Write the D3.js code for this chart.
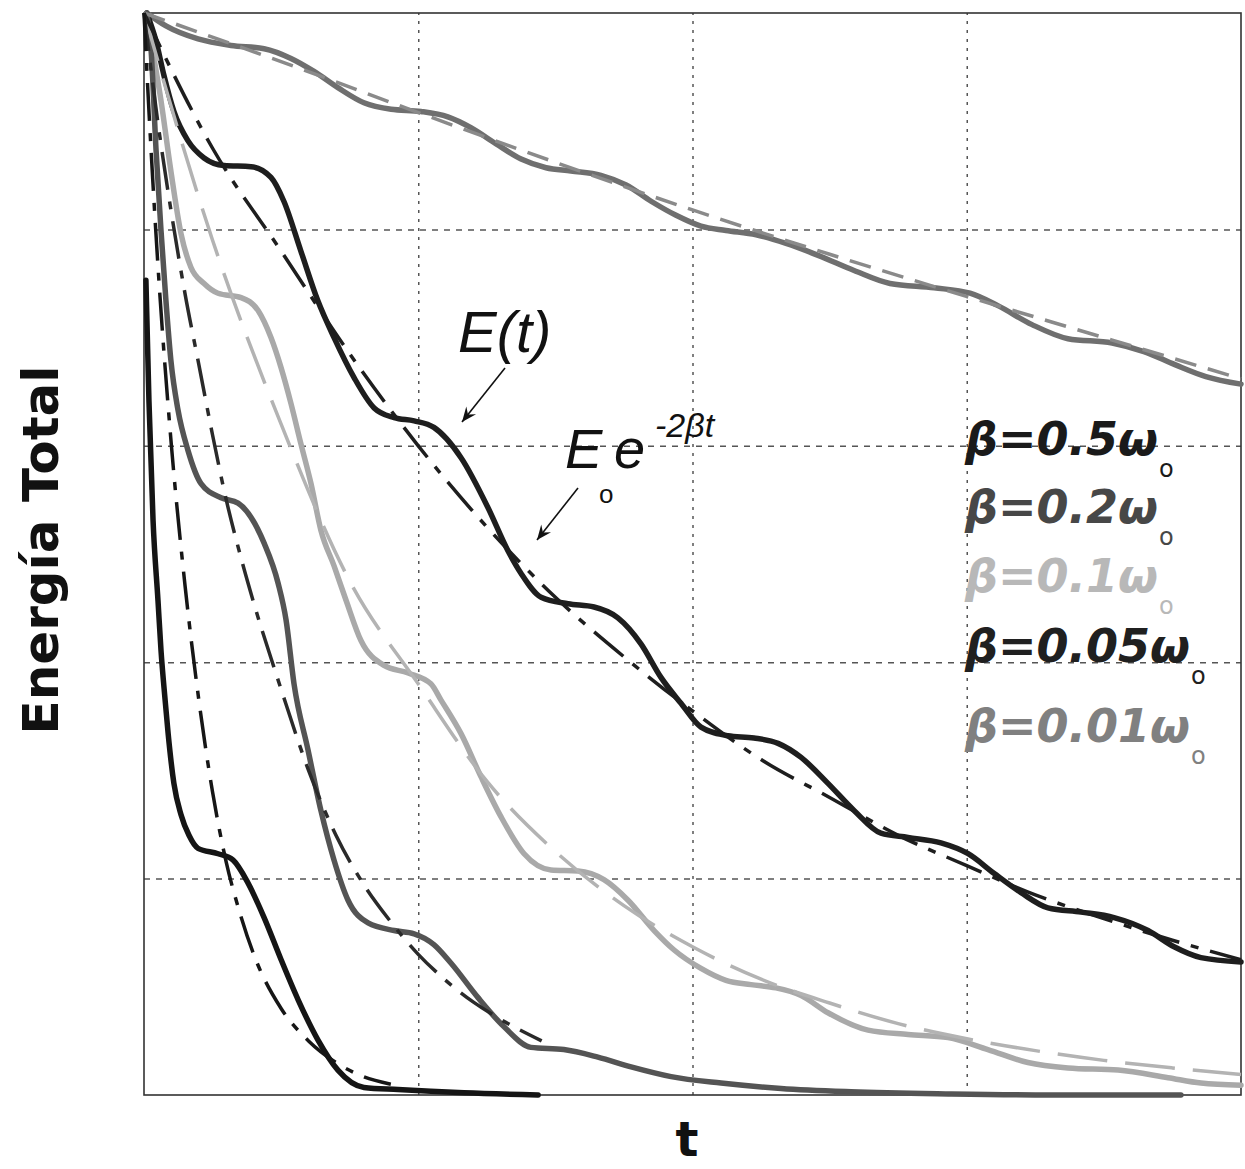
<!DOCTYPE html>
<html>
<head>
<meta charset="utf-8">
<script src="https://cdn.jsdelivr.net/npm/d3@7"></script>
<style>
  html, body { margin: 0; padding: 0; background: #fff; }
  svg { display: block; }
</style>
</head>
<body>
<script>
// grid positions (no tick labels in the figure)
const tGrid = [1, 2, 3];
const eGrid = [0.2, 0.4, 0.6, 0.8];

// E(t) curves, [t, E/E0]
const solid001 = [[0.01,1.0],[0.08,0.988],[0.197,0.976],[0.317,0.97],[0.438,0.967],[0.536,0.958],[0.62,0.946],
  [0.707,0.931],[0.802,0.917],[0.901,0.911],[1.01,0.909],[1.108,0.904],[1.192,0.894],[1.284,0.879],[1.375,0.865],
  [1.466,0.857],[1.557,0.854],[1.666,0.85],[1.758,0.841],[1.849,0.826],[1.94,0.813],[2.031,0.803],[2.122,0.799],
  [2.232,0.795],[2.341,0.787],[2.458,0.776],[2.589,0.762],[2.72,0.75],[2.881,0.746],[3.012,0.741],[3.11,0.73],
  [3.238,0.712],[3.369,0.699],[3.53,0.695],[3.646,0.687],[3.759,0.675],[3.872,0.664],[4.0,0.657]];

const solid005 = [[0.01,1.0],[0.044,0.974],[0.073,0.942],[0.109,0.909],[0.16,0.882],[0.219,0.866],[0.292,0.859],
  [0.39,0.858],[0.463,0.848],[0.51,0.826],[0.572,0.78],[0.634,0.734],[0.693,0.7],[0.766,0.663],[0.839,0.635],
  [0.912,0.626],[0.985,0.623],[1.057,0.617],[1.156,0.589],[1.254,0.543],[1.327,0.503],[1.375,0.482],[1.448,0.46],
  [1.546,0.454],[1.641,0.451],[1.728,0.441],[1.812,0.417],[1.885,0.386],[1.958,0.362],[2.031,0.34],[2.129,0.332],
  [2.224,0.33],[2.312,0.325],[2.396,0.312],[2.494,0.288],[2.589,0.263],[2.687,0.242],[2.786,0.238],[2.906,0.233],
  [3.005,0.223],[3.099,0.205],[3.198,0.187],[3.296,0.173],[3.417,0.169],[3.537,0.164],[3.661,0.152],[3.756,0.137],
  [3.854,0.127],[4.0,0.123]];

const solid01 = [[0.01,1.0],[0.026,0.974],[0.062,0.919],[0.098,0.854],[0.135,0.796],[0.171,0.765],[0.219,0.75],
  [0.27,0.741],[0.354,0.737],[0.416,0.725],[0.463,0.7],[0.5,0.672],[0.536,0.639],[0.572,0.602],[0.609,0.565],
  [0.645,0.522],[0.693,0.489],[0.737,0.457],[0.791,0.42],[0.875,0.397],[0.963,0.39],[1.046,0.38],[1.083,0.365],
  [1.156,0.334],[1.229,0.294],[1.302,0.257],[1.386,0.223],[1.484,0.208],[1.583,0.207],[1.677,0.199],[1.765,0.18],
  [1.86,0.152],[1.933,0.134],[2.031,0.117],[2.122,0.106],[2.213,0.102],[2.304,0.099],[2.396,0.092],[2.494,0.076],
  [2.64,0.06],[2.786,0.056],[2.932,0.053],[3.077,0.042],[3.223,0.03],[3.369,0.025],[3.552,0.023],[3.734,0.016],
  [3.854,0.011],[4.0,0.009]];

const solid02 = [[0.01,1.0],[0.026,0.965],[0.044,0.873],[0.062,0.799],[0.08,0.734],[0.098,0.679],[0.124,0.633],
  [0.16,0.596],[0.208,0.565],[0.281,0.552],[0.343,0.547],[0.39,0.534],[0.438,0.51],[0.489,0.473],[0.518,0.439],
  [0.547,0.38],[0.598,0.319],[0.645,0.263],[0.693,0.217],[0.744,0.18],[0.817,0.159],[0.912,0.152],[0.985,0.149],
  [1.057,0.139],[1.119,0.122],[1.218,0.09],[1.313,0.063],[1.411,0.044],[1.531,0.042],[1.655,0.035],[1.776,0.026],
  [1.922,0.017],[2.104,0.011],[2.323,0.006],[2.578,0.003],[2.943,0.001],[3.307,0.0],[3.781,0.0]];

const solid05 = [[0.007,0.753],[0.018,0.642],[0.033,0.531],[0.051,0.457],[0.062,0.411],[0.077,0.365],[0.088,0.334],
  [0.109,0.288],[0.135,0.259],[0.164,0.24],[0.197,0.228],[0.27,0.223],[0.325,0.217],[0.379,0.196],[0.438,0.164],
  [0.5,0.125],[0.562,0.088],[0.634,0.051],[0.707,0.023],[0.802,0.007],[0.926,0.005],[1.167,0.002],[1.437,0.0]];

// E0 exp(-2 beta t) curves
const fit001 = [[0,1],[0.5,0.955],[1,0.908],[1.5,0.862],[2,0.818],[2.5,0.777],[3,0.738],[3.5,0.7],[4,0.662]];
const fit005 = [[0,1],[0.25,0.875],[0.5,0.78],[0.75,0.685],[1,0.6],[1.25,0.525],[1.5,0.46],[1.75,0.405],[2,0.355],
  [2.25,0.31],[2.5,0.275],[2.75,0.24],[3,0.212],[3.25,0.185],[3.5,0.163],[3.75,0.143],[4,0.125]];
const fit01 = [[0,1],[0.25,0.79],[0.5,0.62],[0.75,0.475],[1,0.38],[1.25,0.29],[1.5,0.225],[1.75,0.175],[2,0.137],
  [2.25,0.107],[2.5,0.085],[2.75,0.066],[3,0.052],[3.25,0.041],[3.5,0.032],[3.75,0.025],[4,0.019]];
const fit02 = [[0,1],[0.05,0.9],[0.1,0.815],[0.15,0.74],[0.2,0.675],[0.25,0.61],[0.3,0.55],[0.35,0.5],[0.4,0.455],
  [0.5,0.375],[0.6,0.3],[0.7,0.24],[0.8,0.195],[0.9,0.16],[1.0,0.13],[1.1,0.106],[1.2,0.086],[1.3,0.07],[1.45,0.05]];
const fit05 = [[0,1],[0.02,0.9],[0.05,0.77],[0.1,0.6],[0.15,0.47],[0.2,0.365],[0.25,0.28],[0.3,0.215],[0.35,0.168],
  [0.4,0.13],[0.5,0.08],[0.6,0.05],[0.7,0.03],[0.8,0.017],[0.9,0.01]];

const betaLabels = ['β=0.5ω', 'β=0.2ω', 'β=0.1ω', 'β=0.05ω', 'β=0.01ω'];

const W = 1245, H = 1169;
const svg = d3.select('body').append('svg').attr('width', W).attr('height', H);
svg.append('rect').attr('width', W).attr('height', H).attr('fill', '#fff');

const x = d3.scaleLinear().domain([0, 4]).range([144, 1241]);
const y = d3.scaleLinear().domain([0, 1]).range([1095, 13]);
const pw = x(4) - x(0), ph = y(0) - y(1);

// dotted grid
svg.append('g').attr('transform', `translate(0, ${y(0)})`)
  .call(d3.axisBottom(x).tickValues(tGrid).tickSize(-ph).tickFormat(''))
  .call(g => g.select('.domain').remove())
  .call(g => g.selectAll('line').attr('stroke', '#555').attr('stroke-width', 1.5).attr('stroke-dasharray', '3,6'));
svg.append('g').attr('transform', `translate(${x(0)}, 0)`)
  .call(d3.axisLeft(y).tickValues(eGrid).tickSize(-pw).tickFormat(''))
  .call(g => g.select('.domain').remove())
  .call(g => g.selectAll('line').attr('stroke', '#555').attr('stroke-width', 1.5).attr('stroke-dasharray', '6,6'));

svg.append('rect').attr('x', x(0)).attr('y', y(1)).attr('width', pw).attr('height', ph)
  .attr('fill', 'none').attr('stroke', '#333').attr('stroke-width', 1.6);

const line = d3.line().x(d => x(d[0])).y(d => y(d[1])).curve(d3.curveMonotoneX);

const solids = [
  {data: solid001, color: '#6f6f6f'},
  {data: solid01, color: '#a9a9a9'},
  {data: solid005, color: '#1e1e1e'},
  {data: solid02, color: '#545454'},
  {data: solid05, color: '#151515'}
];
const fits = [
  {data: fit001, color: '#8a8a8a', dash: '22,12', w: 3.5},
  {data: fit01, color: '#b3b3b3', dash: '50,18', w: 3.5},
  {data: fit005, color: '#1e1e1e', dash: '38,12,8,12', w: 3.5},
  {data: fit02, color: '#2a2a2a', dash: '38,12,8,12', w: 3.5},
  {data: fit05, color: '#161616', dash: '38,12,8,12', w: 3.5}
];

svg.append('g').selectAll('path').data(solids).enter().append('path')
  .attr('d', d => line(d.data)).attr('fill', 'none')
  .attr('stroke', d => d.color).attr('stroke-width', 5.5)
  .attr('stroke-linecap', 'round').attr('stroke-linejoin', 'round');

svg.append('g').selectAll('path').data(fits).enter().append('path')
  .attr('d', d => line(d.data)).attr('fill', 'none')
  .attr('stroke', d => d.color).attr('stroke-width', d => d.w)
  .attr('stroke-dasharray', d => d.dash);

// axis titles
svg.append('text').attr('transform', 'translate(58, 550) rotate(-90)')
  .attr('text-anchor', 'middle').attr('font-family', 'DejaVu Sans').attr('font-weight', 'bold')
  .attr('font-size', 50).attr('fill', '#111').text('Energía Total');
svg.append('text').attr('x', 687).attr('y', 1156)
  .attr('text-anchor', 'middle').attr('font-family', 'DejaVu Sans').attr('font-weight', 'bold')
  .attr('font-size', 48).attr('fill', '#111').text('t');

// annotations
const ann = svg.append('g').attr('font-family', 'Liberation Sans').attr('font-style', 'italic').attr('fill', '#111');
ann.append('text').attr('x', 458).attr('y', 352).attr('font-size', 58).text('E(t)');
ann.append('text').attr('x', 565).attr('y', 468).attr('font-size', 56).text('E');
ann.append('text').attr('x', 599).attr('y', 503).attr('font-size', 26).attr('font-style', 'normal').text('o');
ann.append('text').attr('x', 614).attr('y', 468).attr('font-size', 56).text('e');
ann.append('text').attr('x', 655).attr('y', 437).attr('font-size', 34).text('-2βt');

function arrow(x1, y1, x2, y2) {
  const a = Math.atan2(y2 - y1, x2 - x1), L = 16, s = 0.4;
  svg.append('line').attr('x1', x1).attr('y1', y1).attr('x2', x2).attr('y2', y2)
    .attr('stroke', '#111').attr('stroke-width', 1.6);
  const p = [[x2, y2],
    [x2 - L * Math.cos(a - s), y2 - L * Math.sin(a - s)],
    [x2 - 0.6 * L * Math.cos(a), y2 - 0.6 * L * Math.sin(a)],
    [x2 - L * Math.cos(a + s), y2 - L * Math.sin(a + s)]];
  svg.append('path').attr('d', d3.line()(p) + 'Z').attr('fill', '#111');
}
arrow(505, 368, 462, 422);
arrow(578, 488, 537, 540);

// legend
const legColors = ['#1a1a1a', '#474747', '#b8b8b8', '#202020', '#808080'];
const legY = [455, 523, 592, 662, 742];
const leg = svg.append('g').attr('font-family', 'DejaVu Sans').attr('font-weight', 'bold')
  .attr('font-style', 'italic');
betaLabels.forEach((lab, i) => {
  const t = leg.append('text').attr('x', 965).attr('y', legY[i]).attr('font-size', 46).attr('fill', legColors[i]);
  t.append('tspan').text(lab);
  t.append('tspan').attr('font-size', 24).attr('font-weight', 'normal').attr('font-style', 'normal')
    .attr('dy', 22).attr('dx', 1).text('o');
});
</script>
</body>
</html>
